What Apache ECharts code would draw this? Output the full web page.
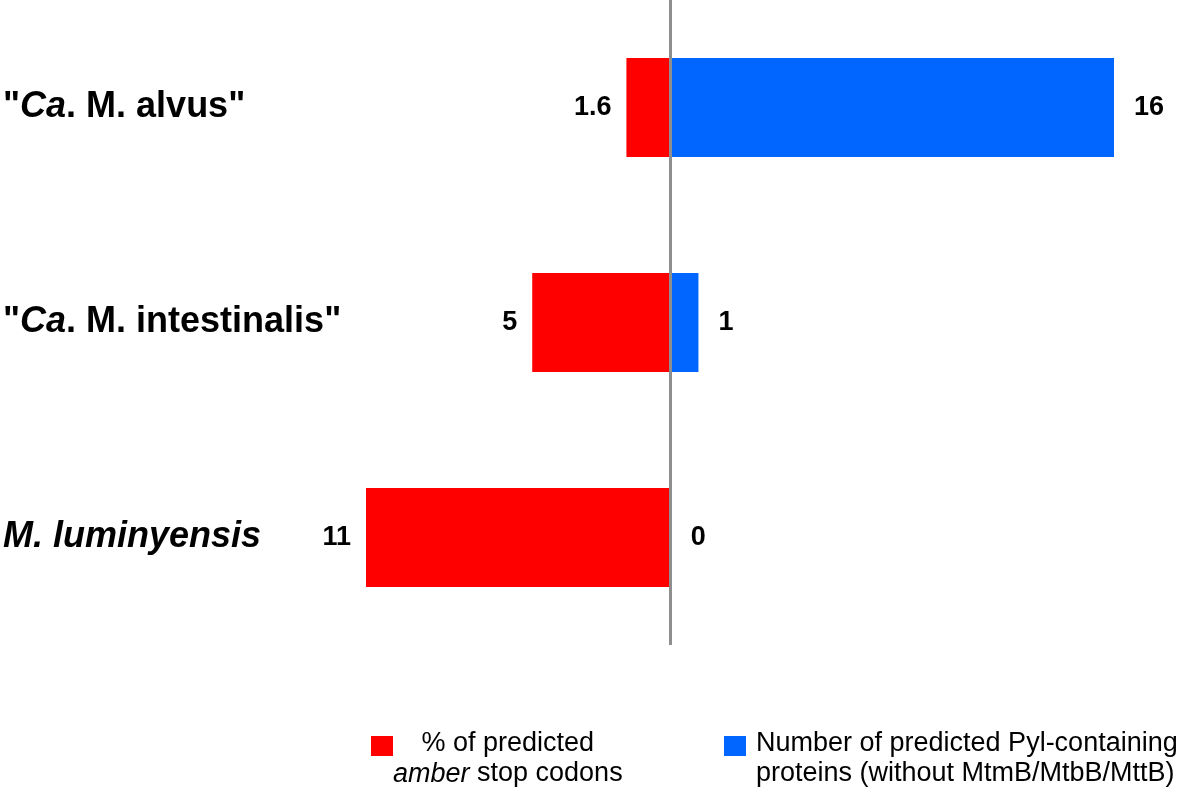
<!DOCTYPE html>
<html>
<head>
<meta charset="utf-8">
<script src="https://cdn.jsdelivr.net/npm/echarts@6/dist/echarts.min.js"></script>
<style>
html,body{margin:0;padding:0;background:#fff;}
#chart{width:1200px;height:793px;}
</style>
</head>
<body>
<div id="chart"></div>
<script>
const categories = ['"Ca. M. alvus"', '"Ca. M. intestinalis"', 'M. luminyensis'];
const amberPercent = [1.6, 5, 11];
const pylProteins = [16, 1, 0];
const seriesNames = ['% of predicted amber stop codons', 'Number of predicted Pyl-containing proteins (without MtmB/MtbB/MttB)'];

const FONT = '"Liberation Sans", Arial, Helvetica, sans-serif';
const chart = echarts.init(document.getElementById('chart'));

const legendText = { fontFamily: FONT, fontSize: 27, lineHeight: 30, color: '#000' };

const option = {
  backgroundColor: '#ffffff',
  animation: false,
  grid: { left: 364, width: 750, top: 0, height: 645, containLabel: false },
  xAxis: {
    type: 'value', min: -11, max: 16, show: false
  },
  yAxis: {
    type: 'category', data: categories, inverse: true,
    axisLine: { show: false }, axisTick: { show: false }, splitLine: { show: false },
    axisLabel: {
      margin: 363, align: 'left',
      formatter: function (v) {
        if (v.indexOf('"Ca.') === 0) {
          return '{b|"}{i|Ca}{b|' + v.slice(3) + '}';
        }
        return '{i|' + v + '}';
      },
      rich: {
        b: { fontFamily: FONT, fontWeight: 'bold', fontSize: 36, color: '#000' },
        i: { fontFamily: FONT, fontWeight: 'bold', fontStyle: 'italic', fontSize: 36, color: '#000' }
      }
    }
  },
  legend: [
    {
      data: [seriesNames[0]], left: 371, top: 703, padding: 0,
      itemWidth: 22, itemHeight: 20, icon: 'rect',
      formatter: function () {
        return '{c|% of predicted}\n{ci|amber}{c| stop codons}';
      },
      textStyle: Object.assign({}, legendText, {
        padding: [26, 0, 0, -5],
        rich: {
          c: Object.assign({}, legendText, { align: 'center' }),
          ci: Object.assign({}, legendText, { fontStyle: 'italic', align: 'center' })
        }
      })
    },
    {
      data: [seriesNames[1]], left: 724, top: 703, padding: 0,
      itemWidth: 22, itemHeight: 20, icon: 'rect',
      formatter: function () {
        return '{t|Number of predicted Pyl-containing}\n{t|proteins (without MtmB/MtbB/MttB)}';
      },
      textStyle: Object.assign({}, legendText, {
        padding: [26, 0, 0, 5],
        rich: { t: Object.assign({}, legendText) }
      })
    }
  ],
  series: [
    {
      name: seriesNames[0], type: 'bar', barWidth: 99, barGap: '-100%',
      data: amberPercent.map(v => -v),
      itemStyle: { color: '#ff0000' },
      label: {
        show: true, position: 'left', distance: 15,
        fontFamily: FONT, fontWeight: 'bold', fontSize: 27, color: '#000',
        formatter: p => String(Math.abs(p.value))
      },
      markLine: {
        silent: true, symbol: 'none', label: { show: false },
        lineStyle: { color: '#8e8e8e', width: 3, type: 'solid' },
        data: [{ xAxis: 0 }]
      },
      z: 2
    },
    {
      name: seriesNames[1], type: 'bar', barWidth: 99, barGap: '-100%',
      data: pylProteins,
      itemStyle: { color: '#0066ff' },
      label: {
        show: true, position: 'right', distance: 20,
        fontFamily: FONT, fontWeight: 'bold', fontSize: 27, color: '#000'
      },
      z: 1
    }
  ]
};
chart.setOption(option);
</script>
</body>
</html>
